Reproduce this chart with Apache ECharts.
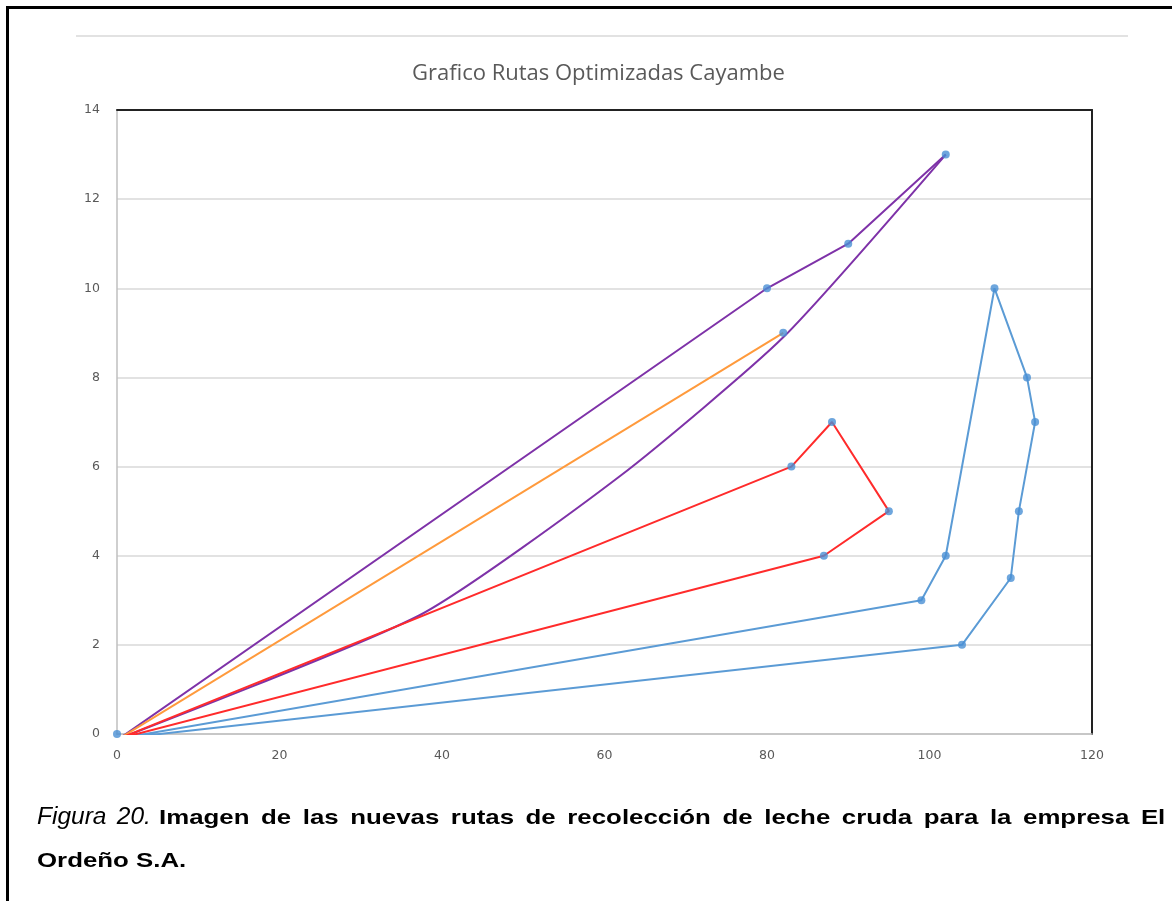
<!DOCTYPE html>
<html>
<head>
<meta charset="utf-8">
<script src="https://cdn.jsdelivr.net/npm/echarts@6/dist/echarts.min.js"></script>
<style>
  html, body { margin: 0; padding: 0; background: #fff; }
  #page { position: relative; width: 1172px; height: 901px; overflow: hidden; }
  #frame { position: absolute; left: 6px; top: 6px; right: -10px; bottom: -10px;
           border-left: 3px solid #000; border-top: 3px solid #000; }
  #chart { position: absolute; left: 0; top: 0; width: 1172px; height: 901px; }
  #caption { position: absolute; left: 37px; top: 795px; width: 1200px;
             font-family: "Liberation Sans", Arial, sans-serif; color: #000;
             line-height: 41px; white-space: nowrap; }
  #caption .first { word-spacing: 3.5px; }
  #caption .fig { font-style: italic; font-weight: normal; font-size: 24.5px; }
  #caption .txt { font-weight: bold; font-size: 20.5px; }
  #caption .wide { display: inline-block; transform: scaleX(1.26); transform-origin: left center; }
</style>
</head>
<body>
<div id="page">
  <div id="chart"></div>
  <div id="frame"></div>
  <div id="caption">
    <span class="first"><span class="fig">Figura 20.</span> <span class="txt wide">Imagen de las nuevas rutas de recolección de leche cruda para la empresa El</span></span><br>
    <span class="txt wide">Ordeño S.A.</span>
  </div>
</div>
<script>
// Chart title and axis ticks
const chartTitle = 'Grafico Rutas Optimizadas Cayambe';
const xTicks = [0, 20, 40, 60, 80, 100, 120];
const yTicks = [0, 2, 4, 6, 8, 10, 12, 14];

// Collection points (plant at the origin)
const puntosX = [0, 80, 90, 102, 82, 83, 88, 95, 87, 99, 102, 108, 112, 113, 111, 110, 104];
const puntosY = [0, 10, 11, 13, 9, 6, 7, 5, 4, 3, 4, 10, 8, 7, 5, 3.5, 2];

// Optimized routes, each leaving from and returning to the plant
const rutaMoradaIda = [[0.3, -0.1], [80, 10], [90, 11], [102, 13]];
const rutaMoradaVuelta = [[102, 13], [82, 8.9], [62, 5.8], [37.3, 2.67], [0.3, -0.1]];
const rutaNaranja = [[0.3, -0.1], [82, 9]];
const rutaRoja = [[0.3, -0.1], [83, 6], [88, 7], [95, 5], [87, 4], [0.3, -0.1]];
const rutaAzul = [[0.3, -0.1], [99, 3], [102, 4], [108, 10], [112, 8], [113, 7], [111, 5], [110, 3.5], [104, 2], [0.3, -0.1]];

const chart = echarts.init(document.getElementById('chart'), null, { renderer: 'canvas' });

const axisFont = { color: '#595959', fontSize: 12.5, fontFamily: 'DejaVu Sans, sans-serif' };

function routeSeries(data, color, smooth) {
  return {
    type: 'line', data: data, showSymbol: false, symbol: 'none', smooth: smooth || false,
    lineStyle: { color: color, width: 2 }, silent: true, animation: false, z: 3
  };
}

chart.setOption({
  animation: false,
  backgroundColor: 'transparent',
  title: {
    text: chartTitle, left: 407, top: 58,
    textStyle: { color: '#595959', fontSize: 22, fontWeight: 'normal', fontFamily: 'Open Sans, Liberation Sans, sans-serif' }
  },
  graphic: [{
    type: 'line', shape: { x1: 76, y1: 36, x2: 1128, y2: 36 },
    style: { stroke: '#D9D9D9', lineWidth: 1.5 }, silent: true
  }],
  grid: { left: 117, right: 80, top: 110, bottom: 167 },
  xAxis: [{
    type: 'value', min: xTicks[0], max: xTicks[xTicks.length - 1], interval: 20,
    axisLine: { show: true, onZero: false, lineStyle: { color: '#BFBFBF', width: 1.5 } },
    axisTick: { show: false },
    splitLine: { show: false },
    axisLabel: Object.assign({ margin: 15 }, axisFont)
  }, {
    type: 'value', position: 'top', min: xTicks[0], max: xTicks[xTicks.length - 1], interval: 20,
    axisLine: { show: true, onZero: false, lineStyle: { color: '#222', width: 2 } },
    axisTick: { show: false }, axisLabel: { show: false }, splitLine: { show: false }
  }],
  yAxis: [{
    type: 'value', min: yTicks[0], max: yTicks[yTicks.length - 1], interval: 2,
    axisLine: { show: true, onZero: false, lineStyle: { color: '#BFBFBF', width: 1.5 } },
    axisTick: { show: false },
    splitLine: { show: true, lineStyle: { color: '#D9D9D9', width: 1.5 } },
    axisLabel: Object.assign({ margin: 17 }, axisFont)
  }, {
    type: 'value', position: 'right', min: yTicks[0], max: yTicks[yTicks.length - 1], interval: 2,
    axisLine: { show: true, onZero: false, lineStyle: { color: '#222', width: 2 } },
    axisTick: { show: false }, axisLabel: { show: false }, splitLine: { show: false }
  }],
  series: [
    routeSeries(rutaAzul, '#5B9BD5'),
    routeSeries(rutaMoradaIda, '#7E32A8'),
    routeSeries(rutaMoradaVuelta, '#7E32A8', 0.2),
    routeSeries(rutaNaranja, '#FF9A3C'),
    routeSeries(rutaRoja, '#FF2B2B'),
    {
      type: 'scatter', data: puntosX.map((x, i) => [x, puntosY[i]]),
      symbol: 'circle', symbolSize: 8, itemStyle: { color: '#4A90D4' }, z: 5, silent: true
    }
  ]
});
</script>
</body>
</html>
